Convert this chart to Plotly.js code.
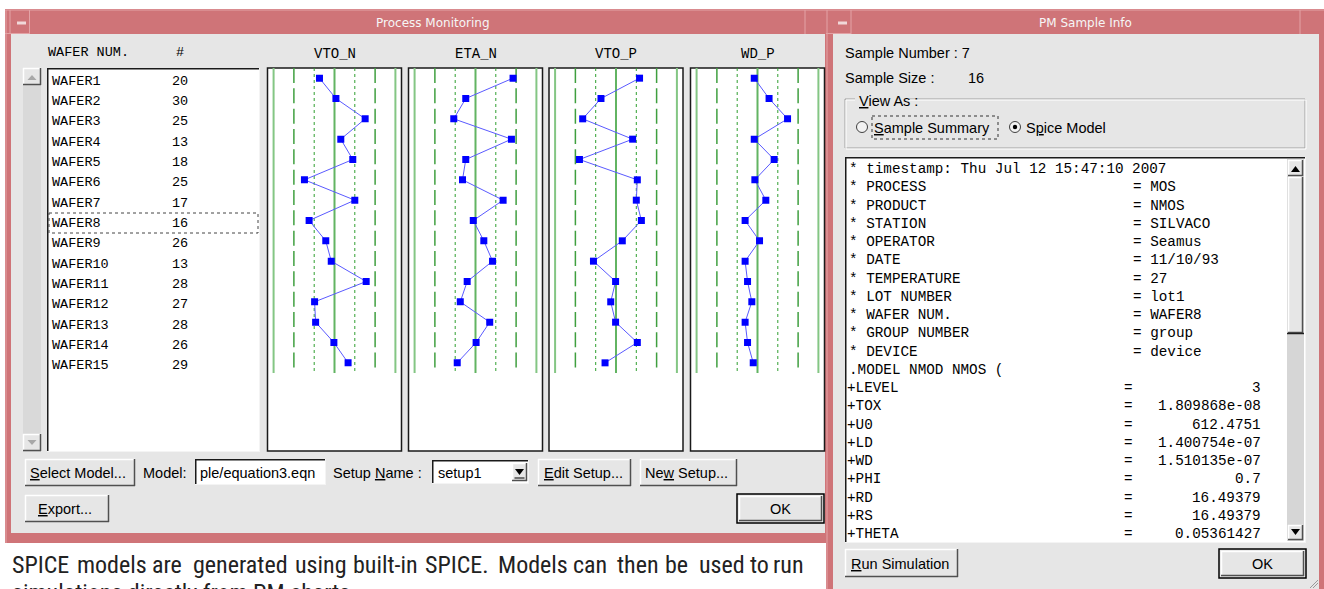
<!DOCTYPE html>
<html>
<head>
<meta charset="utf-8">
<script src="https://cdn.plot.ly/plotly-3.0.1.min.js"></script>
<style>html,body{margin:0;padding:0;background:#fff;}#chart{width:1324px;height:589px;}</style>
</head>
<body>
<div id="chart"></div>
<script>
// ---------------- DATA ----------------
const wafers = ['WAFER1','WAFER2','WAFER3','WAFER4','WAFER5','WAFER6','WAFER7','WAFER8','WAFER9','WAFER10','WAFER11','WAFER12','WAFER13','WAFER14','WAFER15'];
const counts = [20,30,25,13,18,25,17,16,26,13,28,27,28,26,29];
const paramNames = ['VTO_N','ETA_N','VTO_P','WD_P'];
// values in sigma units
const vtoN = [-0.74,0.07,1.51,0.31,0.90,-1.48,1.00,-1.25,-0.43,-0.16,1.56,-0.98,-0.93,-0.03,0.67];
const etaN = [1.85,-0.48,-1.07,1.77,-0.48,-0.64,1.36,-0.11,0.41,0.84,-0.41,-0.75,0.70,0.03,-0.90];
const vtoP = [1.16,-0.74,-1.64,0.82,-1.80,1.05,1.00,1.25,0.31,-1.11,-0.02,-0.26,-0.02,1.05,-0.54];
const wdP  = [-0.16,0.57,1.48,-0.16,0.82,-0.13,0.41,-0.61,0.10,-0.61,-0.49,-0.28,-0.61,-0.49,-0.21];
const sigmaLevels = [-3,-2,-1,0,1,2,3];

const infoKeys = ['* PROCESS','* PRODUCT','* STATION','* OPERATOR','* DATE','* TEMPERATURE','* LOT NUMBER','* WAFER NUM.','* GROUP NUMBER','* DEVICE'];
const infoVals = ['MOS','NMOS','SILVACO','Seamus','11/10/93','27','lot1','WAFER8','group','device'];
const modelKeys = ['+LEVEL','+TOX','+U0','+LD','+WD','+PHI','+RD','+RS','+THETA'];
const modelVals = ['3','1.809868e-08','612.4751','1.400754e-07','1.510135e-07','0.7','16.49379','16.49379','0.05361427'];
const captionLine1 = ['SPICE','models','are','generated','using','built-in','SPICE.','Models','can','then','be','used','to','run'];
const captionLine2 = 'simulations directly from PM charts.';

// ---------------- HELPERS ----------------
const W = 1324, H = 589;
const X = p => p / W;
const Y = p => 1 - p / H;
const S = [], N = [];
const BODY = '#e6e6e6', PINK = '#cf7478', PINKL = '#e3a3a6';
const MONO = 'Liberation Mono, DejaVu Sans Mono, monospace';
const SANS = 'Liberation Sans, Arial, sans-serif';
const TITLE = 'DejaVu Sans, sans-serif';
const NARROW = 'Liberation Sans Narrow, Roboto Condensed, Liberation Sans, sans-serif';

function rect(x0,y0,x1,y1,fill,lc,lw,dash){
  S.push({type:'rect',xref:'paper',yref:'paper',layer:'below',x0:X(x0),y0:Y(y0),x1:X(x1),y1:Y(y1),
    fillcolor:fill||'rgba(0,0,0,0)',line:{color:lc||'rgba(0,0,0,0)',width:lw||0,dash:dash||'solid'}});
}
function seg(x0,y0,x1,y1,c,w,dash){
  S.push({type:'line',xref:'paper',yref:'paper',layer:'below',x0:X(x0),y0:Y(y0),x1:X(x1),y1:Y(y1),
    line:{color:c,width:w||1,dash:dash||'solid'}});
}
function tri(pts,fill){
  const d = 'M' + pts.map(p => X(p[0]) + ',' + Y(p[1])).join(' L') + ' Z';
  S.push({type:'path',xref:'paper',yref:'paper',layer:'below',path:d,fillcolor:fill,line:{width:0}});
}
function circ(cx,cy,r,fill,lc,lw){
  S.push({type:'circle',xref:'paper',yref:'paper',layer:'below',x0:X(cx-r),x1:X(cx+r),y0:Y(cy+r),y1:Y(cy-r),
    fillcolor:fill,line:{color:lc||'rgba(0,0,0,0)',width:lw||0}});
}
function txt(x,y,t,size,fam,color,anchor){
  N.push({xref:'paper',yref:'paper',x:X(x),y:Y(y),text:t,showarrow:false,xanchor:anchor||'left',yanchor:'middle',
    font:{size:size,family:fam,color:color||'#000'},borderpad:0,borderwidth:0});
}
function raised(x0,y0,x1,y1){
  rect(x0,y0,x1,y1,BODY);
  seg(x0,y0+0.5,x1,y0+0.5,'#ffffff',1.5);
  seg(x0+0.5,y0,x0+0.5,y1,'#ffffff',1.5);
  seg(x0,y1-0.5,x1,y1-0.5,'#505050',1.5);
  seg(x1-0.5,y0,x1-0.5,y1,'#505050',1.5);
}
function sunken(x0,y0,x1,y1,fill){
  rect(x0,y0,x1,y1,fill||'#ffffff');
  seg(x0,y0+0.75,x1,y0+0.75,'#1a1a1a',1.5);
  seg(x0+0.75,y0,x0+0.75,y1,'#1a1a1a',1.5);
  seg(x0,y1-0.5,x1,y1-0.5,'#f4f4f4',1);
  seg(x1-0.5,y0,x1-0.5,y1,'#f4f4f4',1);
}

// ---------------- WINDOWS ----------------
// left window
rect(5,9,830,543,PINK);
rect(11,34,825,533,BODY);
seg(5,10,830,10,PINKL,1);
seg(6,10,6,543,PINKL,1);
seg(10,10,10,34,PINKL,1);
seg(29.5,10,29.5,34,PINKL,1);
seg(5,33.5,29.5,33.5,PINKL,1);
seg(805,10,805,34,PINKL,1);
rect(17,21.5,26,24.5,'#f0d8d9');
txt(433,23,'Process Monitoring',12,TITLE,'#f6f6f6','center');

// right window
rect(826,9,1324,589,PINK);
rect(833,34,1319,589,BODY);
seg(826,10,1324,10,PINKL,1);
seg(827,10,827,589,PINKL,1);
seg(851,10,851,34,PINKL,1);
seg(826,33.5,851,33.5,PINKL,1);
seg(1300,10,1300,34,PINKL,1);
rect(838,21.5,847,24.5,'#f0d8d9');
txt(1085,23,'PM Sample Info',12,TITLE,'#f6f6f6','center');

// ---------------- LEFT WINDOW CONTENT ----------------
txt(48,53,'WAFER NUM.',13.5,MONO);
txt(180,53,'#',13.5,MONO,'#000','center');

// list scrollbar
rect(23,68,41,452,'#d9d9d9');
raised(23,68,41,85);
tri([[27.5,80],[36.5,80],[32,75]],'#a8a8a8');
raised(23,434,41,451);
tri([[27.5,440],[36.5,440],[32,445]],'#a8a8a8');

// list box
sunken(47,68,260,452,'#ffffff');
const rowStep = 20.33;
wafers.forEach((w,i) => {
  const yy = 81.2 + rowStep*i;
  txt(52,yy,w,13.5,MONO);
  txt(172,yy,String(counts[i]),13.5,MONO);
});
rect(49,213,258,233,'rgba(0,0,0,0)','#444',1,'dot');

// chart panel boxes + headers
const panelLeft = [267.5,408.5,549,690.5];
const panelWidth = 134;
const plotTop = 68, plotBottom = 373, panelBottom = 451;
paramNames.forEach((p,k) => {
  const l = panelLeft[k], r = l + panelWidth;
  rect(l,plotTop,r,panelBottom,'#ffffff','#1a1a1a',1.5);
  txt((l+r)/2,54,p,14,MONO,'#000','center');
});

// bottom controls
raised(25,459,135,486);
txt(30,472.5,'<u>S</u>elect Model...',14.5,SANS);
txt(143,472.5,'Model:',14.5,SANS);
sunken(195,459,326,485,'#ffffff');
txt(200,472.5,'ple/equation3.eqn',14.5,SANS);
txt(333,472.5,'Setup <u>N</u>ame :',14.5,SANS);
sunken(432,460,529,484,'#ffffff');
txt(438,472.5,'setup1',14.5,SANS);
raised(512,463,527,481);
tri([[515,469],[524,469],[519.5,475]],'#000');
seg(514.5,478,524.5,478,'#000',1);
raised(538,459,631,486);
txt(544,472.5,'<u>E</u>dit Setup...',14.5,SANS);
raised(640,459,737,486);
txt(645,472.5,'Ne<u>w</u> Setup...',14.5,SANS);
raised(25,495,109,522);
txt(38,509,'<u>E</u>xport...',14.5,SANS);
rect(737,494,824,523,'rgba(0,0,0,0)','#000',1.5);
raised(739,496,822,521);
txt(780.5,509,'OK',14.5,SANS,'#000','center');

// caption (justified words)
const capX = [12,77,152,193,295,353,425,498,573,617,665,699,750,773];
captionLine1.forEach((w,i) => txt(capX[i],564.5,w,24,NARROW,'#222'));
txt(12,593,captionLine2,24,NARROW,'#222');

// ---------------- RIGHT WINDOW CONTENT ----------------
txt(845,53,'Sample Number : 7',14.5,SANS);
txt(845,78,'Sample Size :',14.5,SANS);
txt(968,78,'16',14.5,SANS);
rect(845,99,1305,148,'rgba(0,0,0,0)','#a0a0a0',1);
rect(846,100,1306,149,'rgba(0,0,0,0)','#ffffff',1);
rect(855,92,909,108,BODY);
txt(859,101,'<u>V</u>iew As :',14.5,SANS);
circ(862,127,5.5,'#f2f2f2','#404040',1);
rect(872,116,998,139,'rgba(0,0,0,0)','#333',1,'dot');
txt(874,127.5,'<u>S</u>ample Summary',14.5,SANS);
circ(1015,127,5.5,'#f2f2f2','#404040',1);
circ(1015,127,2.2,'#000');
txt(1026,127.5,'S<u>p</u>ice Model',14.5,SANS);

// text area
sunken(845,157,1306,543,'#ffffff');
rect(1287,159,1304,541,'#d6d6d6');
raised(1288,160,1303,176);
tri([[1291,172],[1300,172],[1295.5,166]],'#000');
raised(1288,177,1303,333);
seg(1287,333.5,1304,333.5,'#202020',1.5);
raised(1288,525,1303,540);
tri([[1291,529],[1300,529],[1295.5,535]],'#000');

const lineStep = 18.25, line0 = 169;
txt(849,line0,'* timestamp: Thu Jul 12 15:47:10 2007',14.3,MONO);
infoKeys.forEach((k,i) => {
  const yy = line0 + lineStep*(i+1);
  txt(849,yy,k,14.3,MONO);
  txt(1133,yy,'= ' + infoVals[i],14.3,MONO);
});
txt(849,line0 + lineStep*11,'.MODEL NMOD NMOS (',14.3,MONO);
modelKeys.forEach((k,i) => {
  const yy = line0 + lineStep*(12+i);
  txt(847,yy,k,14.3,MONO);
  txt(1128,yy,'=',14.3,MONO,'#000','center');
  txt(1261,yy,modelVals[i],14.3,MONO,'#000','right');
});

raised(845,549,958,577);
txt(851,563.5,'<u>R</u>un Simulation',14.5,SANS);
rect(1219,549,1306,578,'rgba(0,0,0,0)','#000',1.5);
raised(1221,551,1304,576);
txt(1262.5,563.5,'OK',14.5,SANS,'#000','center');
// resize grip
seg(1310,588,1318,580,'#9a9a9a',1);
seg(1313,588,1318,583,'#9a9a9a',1);

// ---------------- TRACES ----------------
const series = [vtoN, etaN, vtoP, wdP];
const rows = wafers.map((w,i) => i+1);
const traces = [];
const layout = {
  width: W, height: H, autosize:false,
  margin:{l:0,r:0,t:0,b:0,pad:0},
  paper_bgcolor:'#ffffff', plot_bgcolor:'rgba(0,0,0,0)',
  showlegend:false, hovermode:false,
  shapes:S, annotations:N
};
function lineStyle(lvl){
  const a = Math.abs(lvl);
  if (a === 3) return {color:'#84c684',width:2,dash:'solid'};
  if (a === 2) return {color:'#3f9f3f',width:1.5,dash:'15px,5.33px'};
  if (a === 1) return {color:'#2f9f2f',width:1,dash:'3px,3px'};
  return {color:'#62b462',width:2,dash:'solid'};
}
series.forEach((vals,k) => {
  const n = k === 0 ? '' : String(k+1);
  const xa = 'x' + n, ya = 'y' + n;
  sigmaLevels.forEach(lvl => {
    traces.push({type:'scatter',mode:'lines',x:[lvl,lvl],y:[0.5,15.5],xaxis:xa,yaxis:ya,
      line:lineStyle(lvl),hoverinfo:'skip'});
  });
  traces.push({type:'scatter',mode:'lines+markers',x:vals,y:rows,xaxis:xa,yaxis:ya,
    line:{color:'#5a5aff',width:1},marker:{symbol:'square',size:7,color:'#0000ff',line:{width:0}},hoverinfo:'skip'});
  const l = panelLeft[k], r = l + panelWidth;
  layout['xaxis' + n] = {domain:[X(l),X(r)],range:[-3.3,3.3],visible:false,fixedrange:true,anchor:ya};
  layout['yaxis' + n] = {domain:[Y(plotBottom),Y(plotTop)],range:[15.5,0.5],visible:false,fixedrange:true,anchor:xa};
});

Plotly.newPlot('chart', traces, layout, {staticPlot:true, displayModeBar:false});
</script>
</body>
</html>
